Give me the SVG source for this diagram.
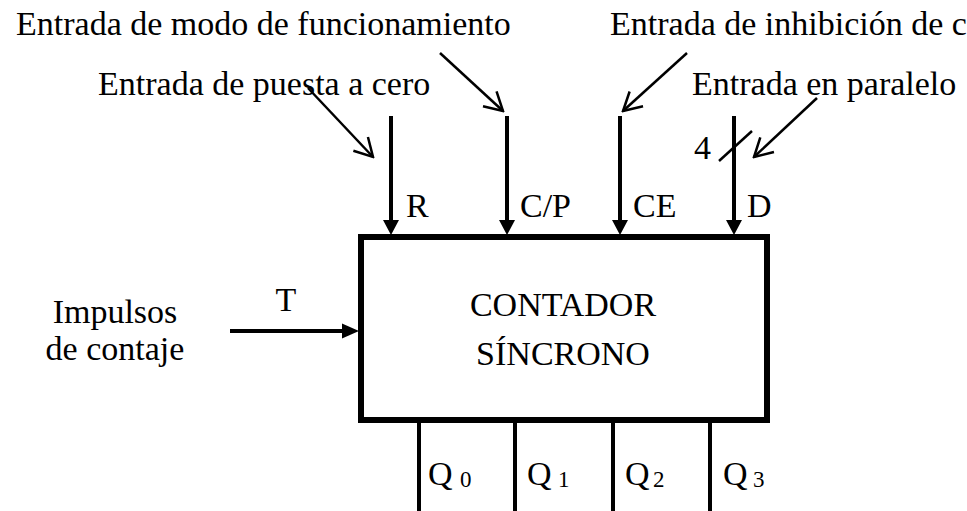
<svg xmlns="http://www.w3.org/2000/svg" width="967" height="511" viewBox="0 0 967 511">
  <style>
    text { font-family: "Liberation Serif", "Times New Roman", serif; font-size: 34px; fill: #000; }
    .sub { font-size: 23px; }
    .wire { stroke: #000; stroke-width: 4; fill: none; }
    .ptr { stroke: #000; stroke-width: 2.5; fill: none; }
    .head { fill: #000; stroke: none; }
    .box { fill: #fff; stroke: #000; stroke-width: 6; }
  </style>
  <defs>
    <marker id="open" viewBox="-22 -13 24 26" refX="0" refY="0" markerWidth="24" markerHeight="26" markerUnits="userSpaceOnUse" orient="auto">
      <path d="M-18,-10 L0,0 L-18,10" fill="none" stroke="#000" stroke-width="2.5"/>
    </marker>
  </defs>

  <g id="contador">
    <rect class="box" x="361" y="237" width="406" height="183"/>
    <text x="563" y="316" text-anchor="middle">CONTADOR</text>
    <text x="563" y="365" text-anchor="middle">SÍNCRONO</text>
  </g>

  <g id="labels-top">
    <text x="16" y="35">Entrada de modo de funcionamiento</text>
    <text x="610" y="35">Entrada de inhibición de c</text>
    <text x="98" y="95">Entrada de puesta a cero</text>
    <text x="692" y="95">Entrada en paralelo</text>
  </g>

  <g id="label-impulsos">
    <text x="115" y="323" text-anchor="middle">Impulsos</text>
    <text x="115" y="360" text-anchor="middle">de contaje</text>
  </g>

  <g id="connectors">
    <!-- input wires -->
    <line class="wire" x1="391" y1="116" x2="391" y2="222"/>
    <polygon class="head" points="383,220 399,220 391,235"/>
    <line class="wire" x1="507" y1="116" x2="507" y2="222"/>
    <polygon class="head" points="499,220 515,220 507,235"/>
    <line class="wire" x1="620" y1="116" x2="620" y2="222"/>
    <polygon class="head" points="612,220 628,220 620,235"/>
    <line class="wire" x1="734" y1="116" x2="734" y2="222"/>
    <polygon class="head" points="726,220 742,220 734,235"/>
    <!-- bus slash -->
    <line class="ptr" x1="719" y1="161" x2="752" y2="131"/>
    <!-- clock input -->
    <line class="wire" x1="230" y1="331" x2="344" y2="331"/>
    <polygon class="head" points="342,323.5 342,338.5 359,331"/>
    <!-- outputs -->
    <line class="wire" x1="419" y1="420" x2="419" y2="511"/>
    <line class="wire" x1="515" y1="420" x2="515" y2="511"/>
    <line class="wire" x1="613" y1="420" x2="613" y2="511"/>
    <line class="wire" x1="710" y1="420" x2="710" y2="511"/>
    <!-- pointer arrows -->
    <line class="ptr" x1="308" y1="88" x2="373" y2="157" marker-end="url(#open)"/>
    <line class="ptr" x1="440" y1="53" x2="503" y2="111" marker-end="url(#open)"/>
    <line class="ptr" x1="687" y1="53" x2="623" y2="111" marker-end="url(#open)"/>
    <line class="ptr" x1="817" y1="98" x2="754" y2="157" marker-end="url(#open)"/>
  </g>

  <g id="pin-labels">
    <text x="406" y="217">R</text>
    <text x="520" y="217">C/P</text>
    <text x="633" y="217">CE</text>
    <text x="747" y="217">D</text>
    <text x="694" y="159">4</text>
    <text x="286" y="311" text-anchor="middle">T</text>
    <text x="428" y="485">Q<tspan class="sub" x="460" y="487">0</tspan></text>
    <text x="527" y="485">Q<tspan class="sub" x="558" y="487">1</tspan></text>
    <text x="625" y="485">Q<tspan class="sub" x="653" y="487">2</tspan></text>
    <text x="723" y="485">Q<tspan class="sub" x="753" y="487">3</tspan></text>
  </g>
</svg>
